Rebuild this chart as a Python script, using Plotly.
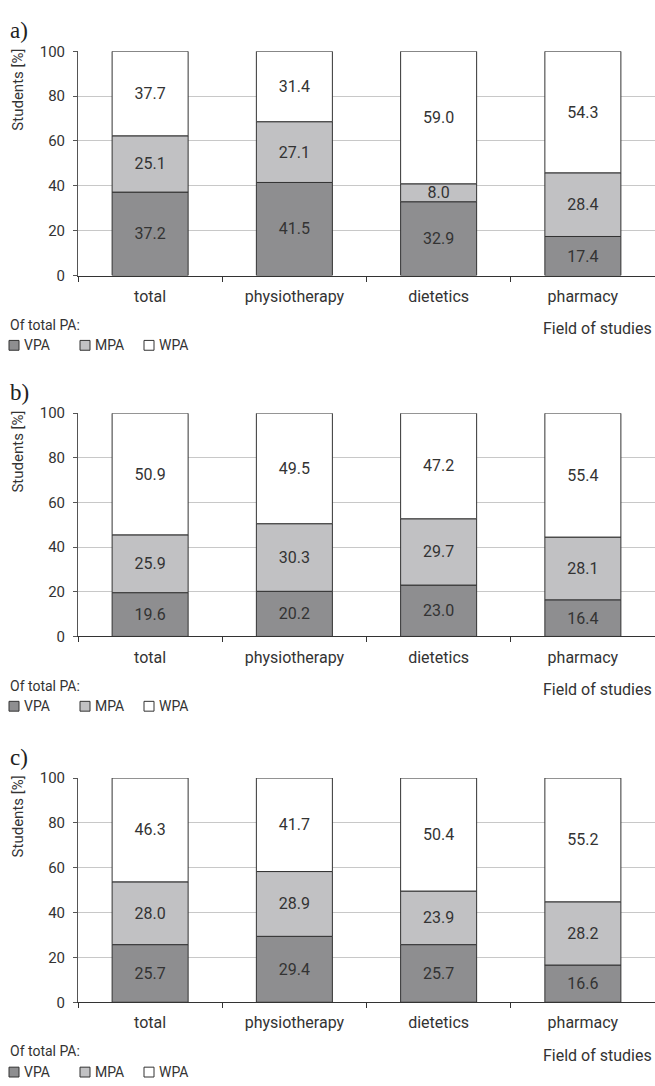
import plotly.graph_objects as go

# ---------------- data ----------------
categories = ["total", "physiotherapy", "dietetics", "pharmacy"]
series_names = ["VPA", "MPA", "WPA"]
panel_labels = ["a)", "b)", "c)"]

vpa_a = [37.2, 41.5, 32.9, 17.4]
mpa_a = [25.1, 27.1, 8.0, 28.4]
wpa_a = [37.7, 31.4, 59.0, 54.3]

vpa_b = [19.6, 20.2, 23.0, 16.4]
mpa_b = [25.9, 30.3, 29.7, 28.1]
wpa_b = [50.9, 49.5, 47.2, 55.4]

vpa_c = [25.7, 29.4, 25.7, 16.6]
mpa_c = [28.0, 28.9, 23.9, 28.2]
wpa_c = [46.3, 41.7, 50.4, 55.2]

y_ticks = [0, 20, 40, 60, 80, 100]

# ---------------- style ----------------
W, H = 655, 1086
FONT = "Roboto, Liberation Sans, sans-serif"
SERIF = "Liberation Serif, DejaVu Serif, serif"
TXT = "#333333"
EDGE = "#333333"
COLORS = ["#8e8e90", "#c1c1c3", "#ffffff"]
GRID = "#c8c8c8"
PLOT_LEFT = 78

tops = [43, 411, 782]
bottoms = [271, 638, 1010]

panels = [(vpa_a, mpa_a, wpa_a), (vpa_b, mpa_b, wpa_b), (vpa_c, mpa_c, wpa_c)]


def py(px):
    return 1 - px / H


def pxx(px):
    return px / W


fig = go.Figure()
annotations = []
shapes = []

for i, (vpa, mpa, wpa) in enumerate(panels):
    sfx = "" if i == 0 else str(i + 1)
    xa, ya = "x" + sfx, "y" + sfx
    base_m = vpa
    base_w = [v + m for v, m in zip(vpa, mpa)]
    white_h = [100 - b for b in base_w]  # segment fills the 100 % stack
    seg = [
        (vpa, [0] * len(vpa), vpa),
        (mpa, base_m, mpa),
        (white_h, base_w, wpa),
    ]
    for k, (h, base, lab) in enumerate(seg):
        fig.add_trace(go.Bar(
            x=categories, y=h, base=base, name=series_names[k],
            marker=dict(color=COLORS[k], line=dict(color=EDGE, width=1)),
            text=[f"{v:.1f}" for v in lab], textposition="inside",
            insidetextanchor="middle", textangle=0, constraintext="none",
            textfont=dict(family=FONT, size=16, color=TXT),
            xaxis=xa, yaxis=ya, showlegend=False, hoverinfo="skip",
        ))

    T, B = tops[i], bottoms[i]
    fig.layout["xaxis" + sfx] = dict(
        domain=[PLOT_LEFT / W, 1], anchor=ya, type="category",
        tickson="boundaries", ticks="outside", ticklen=5, tickcolor=EDGE,
        showline=True, linecolor=EDGE, linewidth=1, showgrid=False,
        tickfont=dict(family=FONT, size=16, color=TXT), ticklabelstandoff=6,
        fixedrange=True,
    )
    fig.layout["yaxis" + sfx] = dict(
        domain=[py(B), py(T)], anchor=xa, range=[0, 100], tickvals=y_ticks,
        ticks="outside", ticklen=4, tickcolor="#555555",
        showline=True, linecolor="#555555", linewidth=1,
        showgrid=True, gridcolor=GRID, gridwidth=1, zeroline=False,
        tickfont=dict(family=FONT, size=15, color=TXT), ticklabelstandoff=5,
        fixedrange=True,
    )

    # panel letter
    annotations.append(dict(text=panel_labels[i], x=pxx(8), y=py(T - 21), xref="paper", yref="paper",
                            xanchor="left", yanchor="middle", showarrow=False,
                            font=dict(family=SERIF, size=23, color="#222222")))
    # y title
    annotations.append(dict(text="Students [%]", x=pxx(18), y=py(T + 39), xref="paper", yref="paper",
                            xanchor="center", yanchor="middle", textangle=-90, showarrow=False,
                            font=dict(family=FONT, size=15, color=TXT)))
    # x title
    annotations.append(dict(text="Field of studies", x=pxx(654), y=py(B + 54), xref="paper", yref="paper",
                            xanchor="right", yanchor="middle", showarrow=False,
                            font=dict(family=FONT, size=16, color=TXT)))
    # legend title
    annotations.append(dict(text="Of total PA:", x=pxx(8), y=py(B + 50), xref="paper", yref="paper",
                            xanchor="left", yanchor="middle", showarrow=False,
                            font=dict(family=FONT, size=14, color=TXT)))
    # legend items
    sq_x = [9, 80, 144]
    ly = B + 71
    for k, name in enumerate(series_names):
        shapes.append(dict(type="rect", xref="paper", yref="paper",
                           x0=pxx(sq_x[k]), x1=pxx(sq_x[k] + 10),
                           y0=py(ly + 5), y1=py(ly - 5),
                           fillcolor=COLORS[k], line=dict(color=EDGE, width=1)))
        annotations.append(dict(text=name, x=pxx(sq_x[k] + 13), y=py(ly), xref="paper", yref="paper",
                                xanchor="left", yanchor="middle", showarrow=False,
                                font=dict(family=FONT, size=14, color=TXT)))

fig.update_layout(
    width=W, height=H, barmode="overlay", bargap=0.473,
    margin=dict(l=0, r=0, t=0, b=0),
    paper_bgcolor="white", plot_bgcolor="white",
    font=dict(family=FONT, color=TXT),
    annotations=annotations, shapes=shapes,
    uniformtext=dict(minsize=16, mode="show"),
)

fig.write_html(
    "out.html",
    config={"displayModeBar": False},
    post_script="document.body.style.margin='0';document.body.style.overflow='hidden';",
)
